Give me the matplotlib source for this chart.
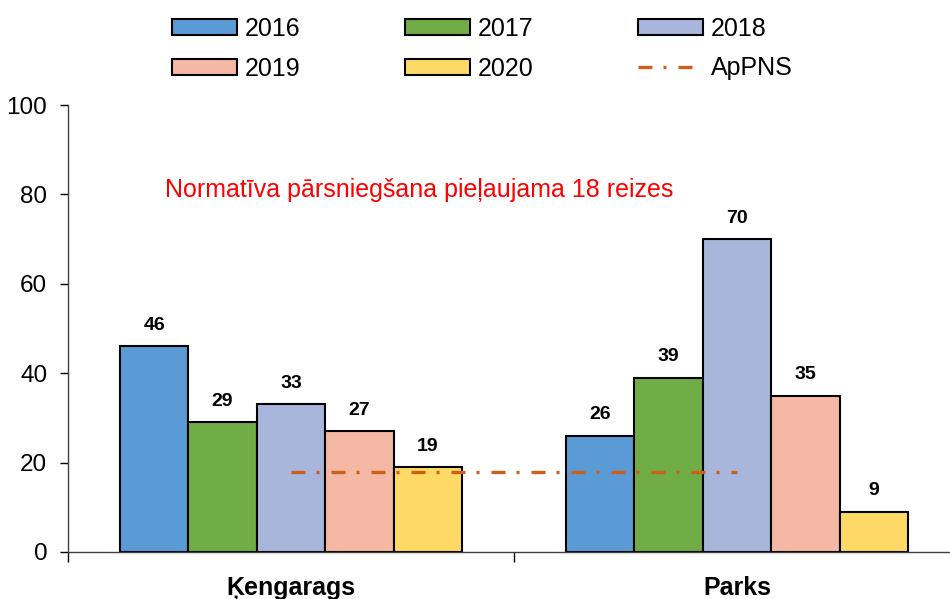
import matplotlib
matplotlib.use("Agg")
import matplotlib.pyplot as plt
import numpy as np
from matplotlib.patches import Patch

plt.rcParams['font.family'] = ['Liberation Sans', 'DejaVu Sans']

categories = ["Ķengarags", "Parks"]
years = ["2016", "2017", "2018", "2019", "2020"]
values = {
    "2016": [46, 26],
    "2017": [29, 39],
    "2018": [33, 70],
    "2019": [27, 35],
    "2020": [19, 9],
}
colors = ["#5B9BD5", "#70AD47", "#A9B6DC", "#F4B8A4", "#FFD966"]
limit_value = 18
limit_label = "ApPNS"
note = "Normatīva pārsniegšana pieļaujama 18 reizes"

fig = plt.figure(figsize=(9.5, 5.99), dpi=100)
ax = fig.add_axes([68/950, 1-552/599, 892/950, (552-105)/599])

x = np.arange(len(categories))
w = 0.1534
for i, (yr, c) in enumerate(zip(years, colors)):
    bars = ax.bar(x + (i - 2) * w, values[yr], width=w, color=c,
                  edgecolor="black", linewidth=1.5, label=yr)
    for b, v in zip(bars, values[yr]):
        ax.annotate(f"{v}", (b.get_x() + b.get_width()/2, v),
                    xytext=(0, 9), textcoords="offset points",
                    ha="center", va="bottom", fontsize=14, fontweight="bold")

line, = ax.plot([0, 1], [limit_value, limit_value], color="#CC6018",
                linewidth=2.4, dashes=(4.2, 3.3, 0.9, 3.6), label=limit_label)

ax.text(0.287, 81, note, color="#FF0000", fontsize=18, ha="center", va="center")

ax.set_xlim(-0.5, 1.5)
ax.set_ylim(0, 100)
ax.set_yticks([0, 20, 40, 60, 80, 100])
ax.tick_params(axis="y", labelsize=17.5, direction="out", length=6, width=1, pad=9)
ax.set_xticks([-0.5, 0.5, 1.5])
ax.set_xticklabels([])
ax.tick_params(axis="x", direction="out", length=7, width=1)
ax.set_xticks(x, minor=True)
ax.set_xticklabels(categories, minor=True, fontsize=18, fontweight="bold")
ax.tick_params(axis="x", which="minor", length=0, pad=17)
for s in ["top", "right"]:
    ax.spines[s].set_visible(False)
for s in ["left", "bottom"]:
    ax.spines[s].set_linewidth(1)
    ax.spines[s].set_color("#404040")

handles = [Patch(facecolor=c, edgecolor="black", linewidth=1.5) for c in colors]
h = [handles[0], handles[3], handles[1], handles[4], handles[2], line]
l = ["2016", "2019", "2017", "2020", "2018", limit_label]
fig.legend(h, l, ncol=3, loc="upper left", bbox_to_anchor=(172/950, 1-17/599),
           frameon=False, fontsize=18, handlelength=2.6, handleheight=0.6,
           handletextpad=0.3, columnspacing=4.2, labelspacing=0.62,
           borderpad=0, borderaxespad=0)

fig.savefig("out.png", dpi=100)
